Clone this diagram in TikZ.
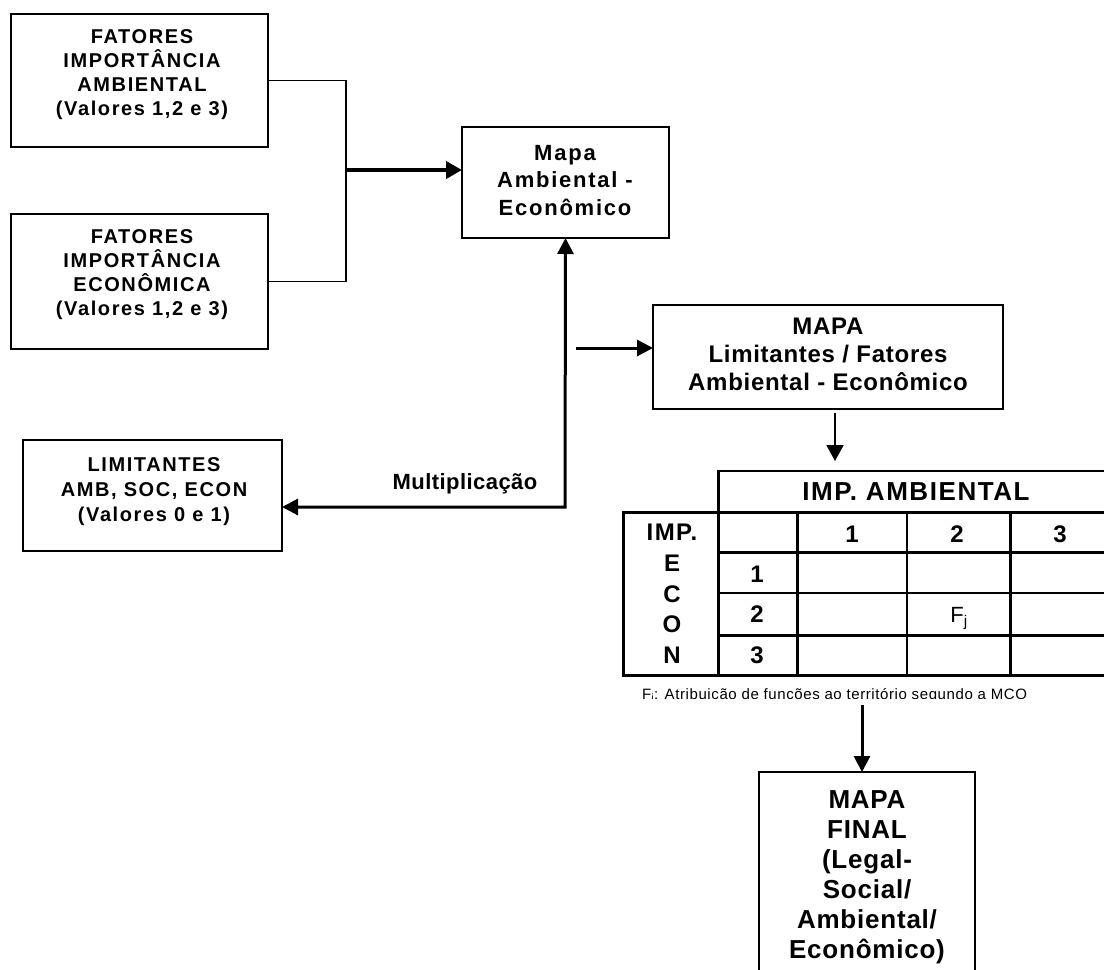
\documentclass[tikz,border=0pt]{standalone}
\usepackage{fontspec}
\setmainfont{Liberation Sans}
\usetikzlibrary{arrows.meta}
\begin{document}
\begin{tikzpicture}[x=1pt,y=-1pt,
  box/.style={draw, line width=2pt, inner sep=0pt, outer sep=0pt},
  txt/.style={align=center, inner sep=0pt, anchor=north},
  bfa/.style={font=\fontsize{20}{24}\selectfont\bfseries\addfontfeatures{LetterSpace=8}},
  arrowline/.style={-{Triangle[length=16pt,width=16pt]}, line width=3pt},
  thinln/.style={line width=1.5pt},
  tk/.style={line width=3pt, line cap=rect},
  tn/.style={line width=1.2pt, line cap=rect},
  cell/.style={anchor=base, inner sep=0pt, font=\fontsize{24}{28}\selectfont\bfseries\addfontfeatures{LetterSpace=6}}
]
\clip (0,0) rectangle (1104,970);
\fill[white] (0,0) rectangle (1104,970);

% boxes
\node[box, minimum width=257pt, minimum height=133pt] (b1) at (139.5,80.5) {};
\node[box, minimum width=257pt, minimum height=135pt] (b2) at (139.5,281.5) {};
\node[box, minimum width=207pt, minimum height=111pt] (mp) at (565.5,182.5) {};
\node[box, minimum width=259pt, minimum height=111pt] (lm) at (152.5,495.5) {};
\node[box, minimum width=350pt, minimum height=104pt] (ml) at (828,357) {};
\node[box, minimum width=216pt, minimum height=228pt] (fn) at (867,886) {};

% box texts
\node[txt, bfa] (b1t) at (142,29) {FATORES\\IMPORTÂNCIA\\AMBIENTAL\\(Valores 1,2 e 3)};
\node[txt, bfa] (b2t) at (142,229) {FATORES\\IMPORTÂNCIA\\ECONÔMICA\\(Valores 1,2 e 3)};
\node[txt, font=\fontsize{20}{25}\selectfont\bfseries\addfontfeatures{LetterSpace=8}] (lmt) at (154,457) {LIMITANTES\\AMB, SOC, ECON\\(Valores 0 e 1)};
\node[txt, font=\fontsize{22}{27.5}\selectfont\bfseries\addfontfeatures{LetterSpace=8}] (mpt) at (565,145) {Mapa\\Ambiental -\\Econômico};
\node[txt, font=\fontsize{24}{28}\selectfont\bfseries\addfontfeatures{LetterSpace=3}] (mlt) at (828,318) {MAPA\\Limitantes / Fatores\\Ambiental - Econômico};
\node[txt, font=\fontsize{26}{30}\selectfont\bfseries\addfontfeatures{LetterSpace=3}] (fnt) at (867,790) {MAPA\\FINAL\\(Legal-\\Social/\\Ambiental/\\Econômico)};
\node[anchor=base, inner sep=0pt, font=\fontsize{22}{26}\selectfont\bfseries\addfontfeatures{LetterSpace=2}] (mult) at (465,489) {Multiplicação};

% connectors
\coordinate (jn) at (346,170);
\draw[thinln] (b1.east) -| (jn) |- (b2.east);
\draw[-{Triangle[length=16pt,width=17pt]}, line width=4pt] (jn) -- (jn -| mp.west);
\coordinate (cr) at (565,507);
\draw[{Triangle[length=16pt,width=16pt]}-{Triangle[length=16pt,width=16pt]}, line width=3pt, line join=miter] (cr -| lm.east) -- (cr) -- (mp.south);
\coordinate (a2) at (576,348);
\draw[arrowline] (a2) -- (a2 -| ml.west);

% table
\node[anchor=base, inner sep=0pt, font=\fontsize{26}{30}\selectfont\bfseries\addfontfeatures{LetterSpace=6}] (hdr) at (916,500) {IMP. AMBIENTAL};
\coordinate (d1) at (835,413);
\coordinate (d2) at (835,461);
\draw[-{Triangle[length=16pt,width=17pt]}, line width=2pt] (d1) -- (d2);

\draw[tn] (718,471) -- (1110,471);
\draw[tk] (718,471) -- (718,675);
\draw[tk] (623,512) -- (623,675);
\draw[tk] (797,512) -- (797,675);
\draw[tk] (1010,512) -- (1010,675);
\draw[tn] (907,512) -- (907,675);
\draw[tk] (623,512) -- (1110,512);
\draw[tk] (718,552) -- (1110,552);
\draw[tn] (718,593) -- (1110,593);
\draw[tk] (718,635) -- (1110,635);
\draw[tk] (623,675) -- (1110,675);

\node[cell] (cimp) at (672,540) {IMP.};
\node[cell] (ce) at (672,571) {E};
\node[cell] (cc) at (672,602) {C};
\node[cell] (co) at (672,632) {O};
\node[cell] (cn) at (672,663) {N};
\node[cell] (h1) at (852,542) {1};
\node[cell] (h2) at (957,542) {2};
\node[cell] (h3) at (1060,542) {3};
\node[cell] (r1) at (757,582) {1};
\node[cell] (r2) at (757,622) {2};
\node[cell] (r3) at (757,663) {3};
\node[anchor=base, inner sep=0pt, font=\fontsize{22}{26}\selectfont] (fj) at (959,622) {F\textsubscript{j}};

\begin{scope}
\clip (600,680) rectangle (1104,698);
\node[anchor=base west, inner sep=0pt, font=\fontsize{15}{17}\selectfont\addfontfeatures{LetterSpace=4}] (note) at (642,699) {F\textsubscript{j}: Atribuição de funções ao território segundo a MCO};
\end{scope}

\coordinate (d3) at (862,705);
\draw[arrowline] (d3) -- (d3 |- fn.north);
\end{tikzpicture}
\end{document}
